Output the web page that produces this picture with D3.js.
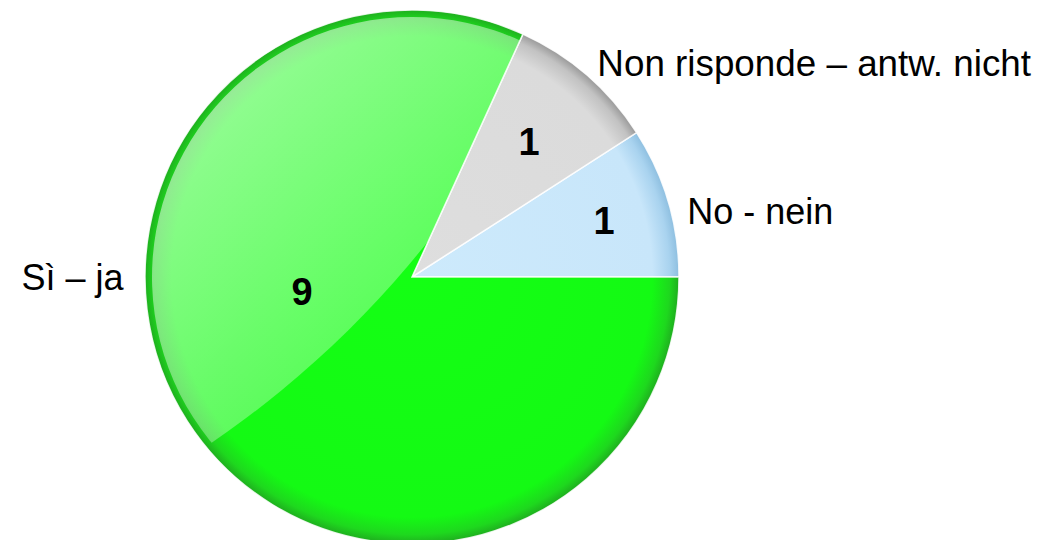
<!DOCTYPE html>
<html>
<head>
<meta charset="utf-8">
<script src="https://cdn.jsdelivr.net/npm/d3@7"></script>
<style>
  body { margin: 0; background: #fff; }
  svg { display: block; }
  text { font-family: Arial, "Liberation Sans", sans-serif; }
</style>
</head>
<body>
<svg id="chart"></svg>
<script>
// data
const categories = ["No - nein", "Non risponde – antw. nicht", "Sì – ja"];
const values = [1, 1, 9];

const sliceColors = [
  ["#cdeafc", "#c8e6fa", "#a9d3ef", "#8ebfe0"],
  ["#dedede", "#dbdbdb", "#c2c2c2", "#9a9a9a"],
  ["#14ff14", "#14fa14", "#1ed81e", "#1fae1f"]
];

let width = 1041, height = 540;
const cx = 412, cy = 277, radius = 267;

const svg = d3.select("#chart")
    .attr("width", width)
    .attr("height", height);

const defs = svg.append("defs");

// gradients live in the translated space of the pie group, so centre is 0,0
sliceColors.forEach((c, i) => {
  const gr = defs.append("radialGradient")
      .attr("id", "fill" + i)
      .attr("gradientUnits", "userSpaceOnUse")
      .attr("cx", 0).attr("cy", 0).attr("r", radius);
  gr.append("stop").attr("offset", 0).attr("stop-color", c[0]);
  gr.append("stop").attr("offset", 0.9).attr("stop-color", c[1]);
  gr.append("stop").attr("offset", 0.965).attr("stop-color", c[2]);
  gr.append("stop").attr("offset", 1).attr("stop-color", c[3]);
});

const gloss = defs.append("linearGradient")
    .attr("id", "gloss")
    .attr("gradientUnits", "userSpaceOnUse")
    .attr("x1", 0).attr("y1", 10).attr("x2", 0).attr("y2", 430);
gloss.append("stop").attr("offset", 0).attr("stop-color", "#fff").attr("stop-opacity", 0.66);
gloss.append("stop").attr("offset", 1).attr("stop-color", "#fff").attr("stop-opacity", 0.3);

const data = categories.map((c, i) => ({ name: c, value: values[i], i: i }));

// counter-clockwise from 3 o'clock, like the original
const pie = d3.pie()
    .sort(null)
    .value(d => d.value)
    .startAngle(Math.PI / 2)
    .endAngle(Math.PI / 2 - 2 * Math.PI);

const arcs = pie(data);

const arc = d3.arc().innerRadius(0).outerRadius(radius);

const g = svg.append("g").attr("transform", `translate(${cx},${cy})`);

g.selectAll("path.slice")
    .data(arcs)
    .enter()
    .append("path")
    .attr("class", "slice")
    .attr("d", arc)
    .attr("fill", d => `url(#fill${d.data.i})`)
    .attr("stroke", "#fff")
    .attr("stroke-opacity", 0.85)
    .attr("stroke-width", 1.5);

// glossy highlight on upper left
const big = arcs[2];
defs.append("clipPath").attr("id", "bigslice")
  .append("path")
  .attr("transform", `translate(${cx},${cy})`)
  .attr("d", d3.arc().innerRadius(0).outerRadius(radius - 7)(big));

svg.append("g")
    .attr("clip-path", "url(#bigslice)")
  .append("ellipse")
    .attr("cx", 175).attr("cy", 205)
    .attr("rx", 460).attr("ry", 210)
    .attr("transform", "rotate(-42,175,205)")
    .attr("fill", "url(#gloss)");

// value labels inside the slices
const polar = (a, r) => [r * Math.sin(a), -r * Math.cos(a)];
const midAngle = d => (d.startAngle + d.endAngle) / 2;

const labels = svg.append("g").attr("transform", `translate(${cx},${cy})`);

labels.selectAll("text.value")
    .data(arcs)
    .enter()
    .append("text")
    .attr("class", "value")
    .attr("transform", d => {
      const p = d.data.i === 2 ? polar(-Math.PI / 2 - 0.125, radius * 0.415)
                               : polar(midAngle(d), radius * (d.data.i === 0 ? 0.75 : 0.67));
      return `translate(${p[0]},${p[1]})`;
    })
    .attr("text-anchor", "middle")
    .attr("dy", "0.36em")
    .attr("font-size", 38)
    .attr("font-weight", "bold")
    .text(d => d.value);

// category labels outside
labels.selectAll("text.name")
    .data(arcs)
    .enter()
    .append("text")
    .attr("class", "name")
    .attr("transform", d => {
      const p = d.data.i === 2 ? polar(-Math.PI / 2, radius * 1.08)
                               : polar(midAngle(d) + (d.data.i === 0 ? 0.05 : 0), radius * 1.06);
      return `translate(${p[0]},${p[1]})`;
    })
    .attr("text-anchor", d => d.data.i === 2 ? "end" : "start")
    .attr("dy", "0.35em")
    .attr("font-size", d => d.data.i === 1 ? 36.8 : 36)
    .attr("fill", "#000")
    .text(d => d.data.name);
</script>
</body>
</html>
